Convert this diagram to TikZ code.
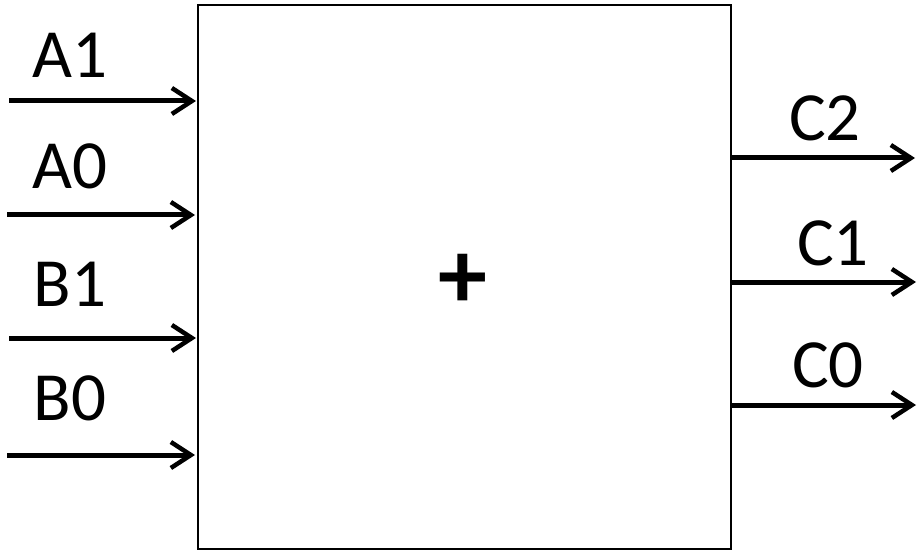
\documentclass[tikz,border=0pt]{standalone}
\usepackage{fontspec}
\setmainfont{Carlito}
\usetikzlibrary{arrows.meta, positioning, calc}
\tikzset{
  blockbox/.style={draw, line width=2pt, minimum width=533pt, minimum height=544pt, inner sep=0pt},
  sig/.style={-{Straight Barb[length=20pt, width=26pt, line width=4.5pt]}, line width=5pt},
  siglabel/.style={font=\fontsize{69}{72}\selectfont, inner sep=0pt}
}
\begin{document}
\begin{tikzpicture}[x=1pt, y=-1pt]
  \useasboundingbox (0,0) rectangle (917,553);

  % adder block
  \node[blockbox] (adder) at (464.5,277) {};
  \node[font=\fontsize{98}{100}\selectfont\bfseries, inner sep=0pt] (plus) at (463,281) {+};

  % inputs
  \coordinate (inAone)  at (9,101);
  \coordinate (inAzero) at (7,215);
  \coordinate (inBone)  at (9,338);
  \coordinate (inBzero) at (7,455);
  \draw[sig] (inAone)  -- ($(inAone -| adder.west)+(-1,0)$);
  \draw[sig] (inAzero) -- ($(inAzero -| adder.west)+(-2,0)$);
  \draw[sig] (inBone)  -- ($(inBone -| adder.west)+(-1,0)$);
  \draw[sig] (inBzero) -- ($(inBzero -| adder.west)+(-2,0)$);
  \node[siglabel] (labAone)  at (70,55)  {A1};
  \node[siglabel] (labAzero) at (70,166) {A0};
  \node[siglabel] (labBone)  at (70,284) {B1};
  \node[siglabel] (labBzero) at (70,398) {B0};

  % outputs
  \coordinate (outCtwo)  at (915,158);
  \coordinate (outCone)  at (916,282);
  \coordinate (outCzero) at (916,405);
  \draw[sig] (outCtwo -| adder.east)  -- (outCtwo);
  \draw[sig] (outCone -| adder.east)  -- (outCone);
  \draw[sig] (outCzero -| adder.east) -- (outCzero);
  \node[siglabel] (labCtwo)  at (825,118) {C2};
  \node[siglabel] (labCone)  at (833,243) {C1};
  \node[siglabel] (labCzero) at (828,365) {C0};
\end{tikzpicture}
\end{document}
